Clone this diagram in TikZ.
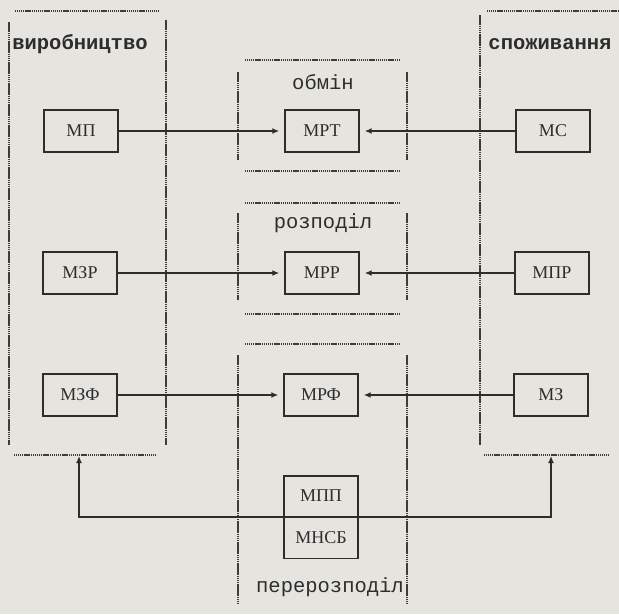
\documentclass[tikz,border=0pt]{standalone}
\usepackage{fontspec}
\usetikzlibrary{arrows.meta}
\newfontfamily\labfont{Liberation Serif}
\newfontfamily\monofont{Liberation Mono}
\definecolor{paper}{RGB}{229,228,223}
\definecolor{ink}{RGB}{45,45,45}
\definecolor{dotink}{RGB}{60,60,60}
\tikzset{
  box/.style={draw=ink, line width=1.4pt, minimum width=74pt, minimum height=42pt,
    inner sep=0pt, font=\labfont\fontsize{18}{18}\selectfont, text=ink},
  halfbox/.style={box, minimum height=40.5pt},
  sectitle/.style={font=\monofont\bfseries\fontsize{20.5}{22}\selectfont, text=ink, inner sep=0pt},
  subtitle/.style={font=\monofont\fontsize{20.5}{22}\selectfont, text=ink, inner sep=0pt},
  vrule/.style={draw=dotink, line width=1.2pt, dash pattern=on 1.6pt off 0.5pt},
  hrule/.style={draw=dotink, line width=1.1pt, dash pattern=on 1.2pt off 0.7pt},
  flow/.style={draw=ink, line width=1.4pt, -{Latex[length=7pt,width=6pt]}, shorten >=5pt},
  upflow/.style={draw=ink, line width=1.4pt, -{Latex[length=7pt,width=6pt]}}
}
\begin{document}
\begin{tikzpicture}[x=1pt,y=-1pt]
  % paper
  \fill[paper] (0,0) rectangle (619,614);
  \useasboundingbox (0,0) rectangle (619,614);

  % production column frame
  \draw[hrule] (15,11) -- (158,11);
  \draw[vrule] (9,22) -- (9,445);
  \draw[vrule] (166,20) -- (166,445);
  \draw[hrule] (14,455) -- (156,455);

  % consumption column frame
  \draw[hrule] (487,11) -- (619,11);
  \draw[vrule] (480,15) -- (480,445);
  \draw[hrule] (484,455) -- (609,455);

  % middle column frames
  \foreach \xx in {238,407} {
    \draw[vrule] (\xx,72) -- (\xx,160);
    \draw[vrule] (\xx,213) -- (\xx,300);
    \draw[vrule] (\xx,355) -- (\xx,603);
  }
  \foreach \yy in {60,171,203,314,344}
    \draw[hrule] (245,\yy) -- (400,\yy);

  % titles
  \node[sectitle] (virob) at (80,44) {виробництво};
  \node[sectitle] (spozh) at (550,44) {споживання};
  \node[subtitle] (obmin) at (323,82) {обмін};
  \node[subtitle] (rozp) at (323,223) {розподіл};
  \node[subtitle] (pererozp) at (330,587) {перерозподіл};

  % boxes
  \node[box] (mp)  at (81,131)  {МП};
  \node[box] (mzr) at (80,273)  {МЗР};
  \node[box] (mzf) at (80,395)  {МЗФ};
  \node[box] (mrt) at (322,131) {МРТ};
  \node[box] (mrr) at (322,273) {МРР};
  \node[box] (mrf) at (321,395) {МРФ};
  \node[box] (ms)  at (553,131) {МС};
  \node[box] (mpr) at (552,273) {МПР};
  \node[box] (mz)  at (551,395) {МЗ};

  % split box at the bottom
  \node[halfbox, anchor=south] (mpp) at (321,517) {МПП};
  \node[halfbox, anchor=north] (mnsb) at (321,517) {МНСБ};

  % flows into the middle column
  \draw[flow] (mp) -- (mrt);
  \draw[flow] (ms) -- (mrt);
  \draw[flow] (mzr) -- (mrr);
  \draw[flow] (mpr) -- (mrr);
  \draw[flow] (mzf) -- (mrf);
  \draw[flow] (mz) -- (mrf);

  % redistribution back to both sides
  \coordinate (lret) at (79,456);
  \coordinate (rret) at (551,456);
  \draw[upflow] (mnsb.north west) -| (lret);
  \draw[upflow] (mnsb.north east) -| (rret);
\end{tikzpicture}
\end{document}
